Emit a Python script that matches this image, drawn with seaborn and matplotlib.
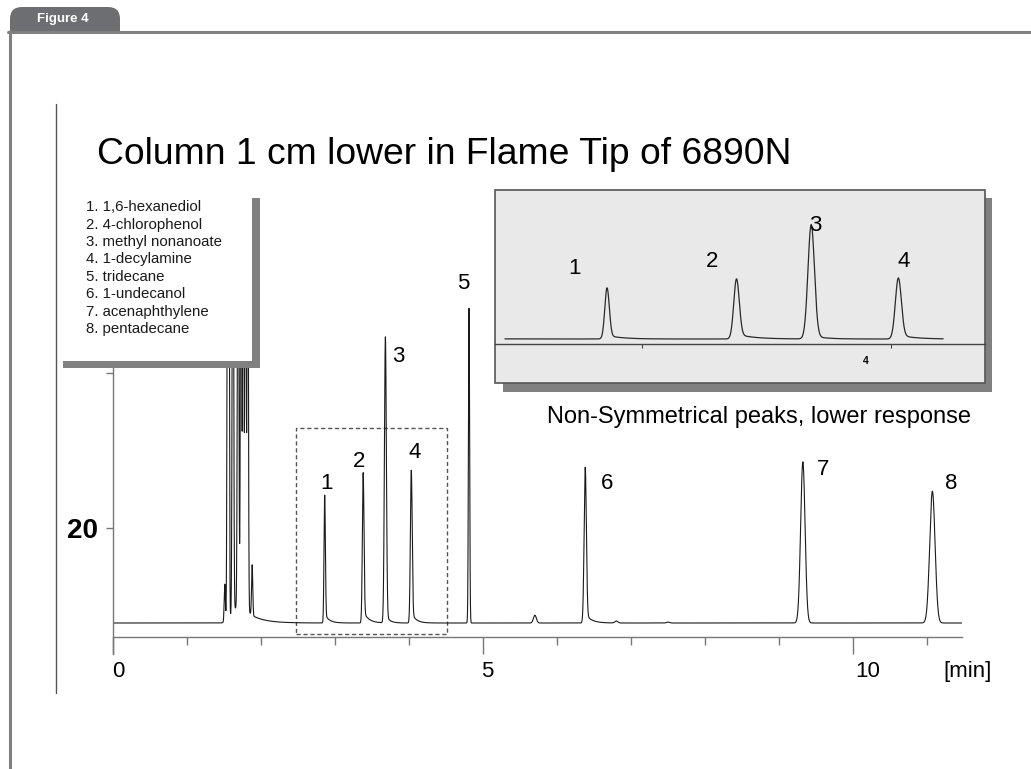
import numpy as np
import pandas as pd
import matplotlib
matplotlib.use("Agg")
import matplotlib.pyplot as plt
import seaborn as sns
from matplotlib.patches import Rectangle, FancyBboxPatch
from matplotlib.lines import Line2D
from matplotlib.transforms import IdentityTransform

# ---------------- data ----------------
title = "Column 1 cm lower in Flame Tip of 6890N"
compounds = ["1. 1,6-hexanediol", "2. 4-chlorophenol", "3. methyl nonanoate",
             "4. 1-decylamine", "5. tridecane", "6. 1-undecanol",
             "7. acenaphthylene", "8. pentadecane"]
peak_labels = ["1", "2", "3", "4", "5", "6", "7", "8"]
peak_times = [2.86, 3.38, 3.68, 4.03, 4.81, 6.38, 9.32, 11.07]        # min
peak_heights = [16.5, 19.4, 36.9, 19.7, 40.6, 20.1, 20.8, 17.0]      # above baseline
peak_sigmas = [0.009, 0.011, 0.013, 0.012, 0.008, 0.015, 0.030, 0.036]
peak_tail_frac = [0.07, 0.08, 0.03, 0.07, 0.0, 0.06, 0.0, 0.0]
peak_tail_tau = [0.06, 0.07, 0.05, 0.06, 0.05, 0.08, 0.05, 0.05]

solvent_times = [1.51, 1.55, 1.565, 1.62, 1.69, 1.73, 1.76, 1.79, 1.82, 1.88, 1.68]
solvent_heights = [4.9, 75.0, 60.0, 70.0, 65.0, 70.0, 66.0, 72.0, 68.0, 6.5, 2.0]
solvent_sigmas = [0.008, 0.008, 0.007, 0.009, 0.009, 0.008, 0.008, 0.008, 0.008, 0.008, 0.07]
solvent_tail_frac = [0.0, 0.0, 0.0, 0.0, 0.0, 0.0, 0.0, 0.0, 0.02, 0.0, 0.0]
solvent_tail_tau = [0.05, 0.05, 0.05, 0.05, 0.05, 0.05, 0.05, 0.05, 0.18, 0.05, 0.05]

minor_times = [5.70, 6.80, 7.50]
minor_heights = [1.0, 0.25, 0.12]
minor_sigmas = [0.02, 0.02, 0.02]

baseline_level = 7.74
run_end = 11.47
time_step = 0.001

main_label_pos_t = [2.88, 3.32, 3.86, 4.08, 4.73, 6.68, 9.59, 11.32]
main_label_pos_y = [25.8, 28.6, 42.1, 29.8, 51.6, 25.8, 27.6, 25.8]
inset_label_pos_t = [2.73, 3.28, 3.695, 4.05]
inset_label_pos_y = [30.6, 32.6, 44.5, 32.6]

x_major = [0, 5, 10]
x_minor = [1, 2, 3, 4, 6, 7, 8, 9, 11]
x_tick_labels = ["0", "5", "10"]
y_ticks = [20, 40]
y_tick_labels = ["20", ""]


# ---------------- build trace ----------------
def peak(t, t0, h, s, a, tau):
    g = np.exp(-0.5 * ((t - t0) / s) ** 2)
    tail = np.where(t > t0, a * np.exp(-np.clip(t - t0, 0, None) / tau) * (1 - g), 0.0)
    return h * (g + tail)


t = np.arange(0, run_end + 1e-9, time_step)
signal = np.full_like(t, baseline_level)
for t0, h, s, a, tau in zip(peak_times, peak_heights, peak_sigmas, peak_tail_frac, peak_tail_tau):
    signal += peak(t, t0, h, s, a, tau)
for t0, h, s, a, tau in zip(solvent_times, solvent_heights, solvent_sigmas,
                            solvent_tail_frac, solvent_tail_tau):
    signal += peak(t, t0, h, s, a, tau)
for t0, h, s in zip(minor_times, minor_heights, minor_sigmas):
    signal += peak(t, t0, h, s, 0.0, 0.05)

df = pd.DataFrame({"time": t, "signal": signal})

# ---------------- figure ----------------
W, H = 1031, 769
sns.set_theme(style="white")
plt.rcParams["font.family"] = ["Liberation Sans", "DejaVu Sans"]
plt.rcParams["text.color"] = "black"

fig = plt.figure(figsize=(W / 100, H / 100), dpi=100)
fig.patch.set_facecolor("white")


def fx(x):
    return x / W


def fy(y):
    return 1 - y / H


# main axes
ax = fig.add_axes([fx(113), fy(654), fx(962) - fx(113), fy(200) - fy(654)], zorder=0)
ax.set_facecolor("none")
sns.lineplot(data=df, x="time", y="signal", ax=ax, color="#1a1a1a", linewidth=0.8,
             estimator=None, sort=False)
ax.set_xlim(0, run_end)
ax.set_ylim(3.74, 62.32)
ax.set_xlabel("")
ax.set_ylabel("")
for s in ["top", "right"]:
    ax.spines[s].set_visible(False)
ax.spines["bottom"].set_position(("data", 5.94))
ax.spines["bottom"].set_bounds(0, run_end)
for s in ["bottom", "left"]:
    ax.spines[s].set_color("#777777")
    ax.spines[s].set_linewidth(1.0)
ax.set_xticks(x_major)
ax.set_xticks(x_minor, minor=True)
ax.tick_params(axis="x", which="major", bottom=True, length=12.2, width=1,
               color="#777777", direction="out", labelbottom=False)
ax.tick_params(axis="x", which="minor", bottom=True, length=5.8, width=1,
               color="#777777", direction="out")
ax.set_yticks(y_ticks)
ax.set_yticklabels(y_tick_labels)
ax.tick_params(axis="y", which="major", left=True, length=5, width=1,
               color="#777777", direction="out", labelsize=20, pad=6, labelcolor="black")
for lab in ax.get_yticklabels():
    lab.set_fontweight("bold")

label_y = 20 - (672 - 528) / 7.75
for xv, lab, dx in zip(x_major, x_tick_labels, [0.07, 0.05, 0.2]):
    ax.text(xv + dx, label_y, lab, ha="center", va="center", fontsize=16, clip_on=False)
ax.text(11.55, label_y, "[min]", ha="center", va="center", fontsize=16, clip_on=False)

ax.add_patch(Rectangle((2.47, 6.32), 2.04, 26.58, fill=False, ec="#555555", lw=1.0,
                       ls=(0, (3, 2))))

for lab, xt, yt in zip(peak_labels, main_label_pos_t, main_label_pos_y):
    ax.text(xt, yt, lab, ha="center", va="center", fontsize=16)

# inset
fig.add_artist(Rectangle((fx(503), fy(392)), fx(992) - fx(503), fy(198) - fy(392),
                         transform=fig.transFigure, fc="#808080", ec="none", zorder=2))
ax_in = fig.add_axes([fx(495), fy(383), fx(985) - fx(495), fy(190) - fy(383)], zorder=3)
ax_in.set_facecolor("#e9e9e9")
sub = df[(df["time"] >= 2.45) & (df["time"] <= 4.21)]
sns.lineplot(data=sub, x="time", y="signal", ax=ax_in, color="#2a2a2a", linewidth=0.9,
             estimator=None, sort=False)
ax_in.set_xlim(2.41, 4.378)
ax_in.set_ylim(-6.45, 55.8)
ax_in.set_xlabel("")
ax_in.set_ylabel("")
for s in ["top", "right", "left"]:
    ax_in.spines[s].set_visible(False)
ax_in.spines["bottom"].set_position(("data", 6.13))
ax_in.spines["bottom"].set_color("#444444")
ax_in.spines["bottom"].set_linewidth(1.0)
ax_in.set_xticks([3, 4])
ax_in.tick_params(axis="x", bottom=True, length=3, width=0.8, color="#444444",
                  direction="out", labelbottom=False)
ax_in.set_yticks([])
ax_in.add_patch(Rectangle((0, 0), 1, 1, transform=ax_in.transAxes, fill=False,
                          ec="#555555", lw=1.2, clip_on=False))
ax_in.text(3.90, 0.64, "4", ha="center", va="center", fontsize=7.5, fontweight="bold")
for lab, xt, yt in zip(peak_labels[:4], inset_label_pos_t, inset_label_pos_y):
    ax_in.text(xt, yt, lab, ha="center", va="center", fontsize=16)

fig.text(fx(759), fy(417), "Non-Symmetrical peaks, lower response", ha="center",
         va="center", fontsize=17)
fig.text(fx(97), fy(155), title, ha="left", va="center", fontsize=26.8)

# compound list box
fig.add_artist(Rectangle((fx(63), fy(368)), fx(260) - fx(63), fy(198) - fy(368),
                         transform=fig.transFigure, fc="#808080", ec="none", zorder=4))
fig.add_artist(Rectangle((fx(57), fy(361)), fx(252) - fx(57), fy(190) - fy(361),
                         transform=fig.transFigure, fc="white", ec="none", zorder=5))
for i, c in enumerate(compounds):
    fig.text(fx(86), fy(207 + 17.5 * i), c, ha="left", va="center", fontsize=10.8,
             color="#1a1a1a", family=["Liberation Sans", "DejaVu Sans"], zorder=6)

# page decorations
fig.add_artist(Line2D([fx(56), fx(56)], [fy(104), fy(693)], transform=fig.transFigure,
                      color="#555555", lw=1.0, zorder=7))
tab = FancyBboxPatch((10, H - 45), 110, 38, boxstyle="round,pad=0,rounding_size=12",
                     transform=IdentityTransform(), fc="#6d6e71", ec="none", zorder=8)
fig.add_artist(tab)
fig.add_artist(Rectangle((11.5, H - 60), 130, 27, transform=IdentityTransform(),
                         fc="white", ec="none", zorder=9))
fig.add_artist(Line2D([fx(8), 1.0], [fy(32), fy(32)], transform=fig.transFigure,
                      color="#808080", lw=2.2, zorder=10))
fig.add_artist(Line2D([fx(10), fx(10)], [fy(31), 0.0], transform=fig.transFigure,
                      color="#808080", lw=2.2, zorder=10))
fig.text(fx(63), fy(19), "Figure 4", ha="center", va="center", fontsize=9.5,
         fontweight="bold", color="white",
         family=["Liberation Sans", "DejaVu Sans"], zorder=11)

fig.savefig("out.png", dpi=100)
